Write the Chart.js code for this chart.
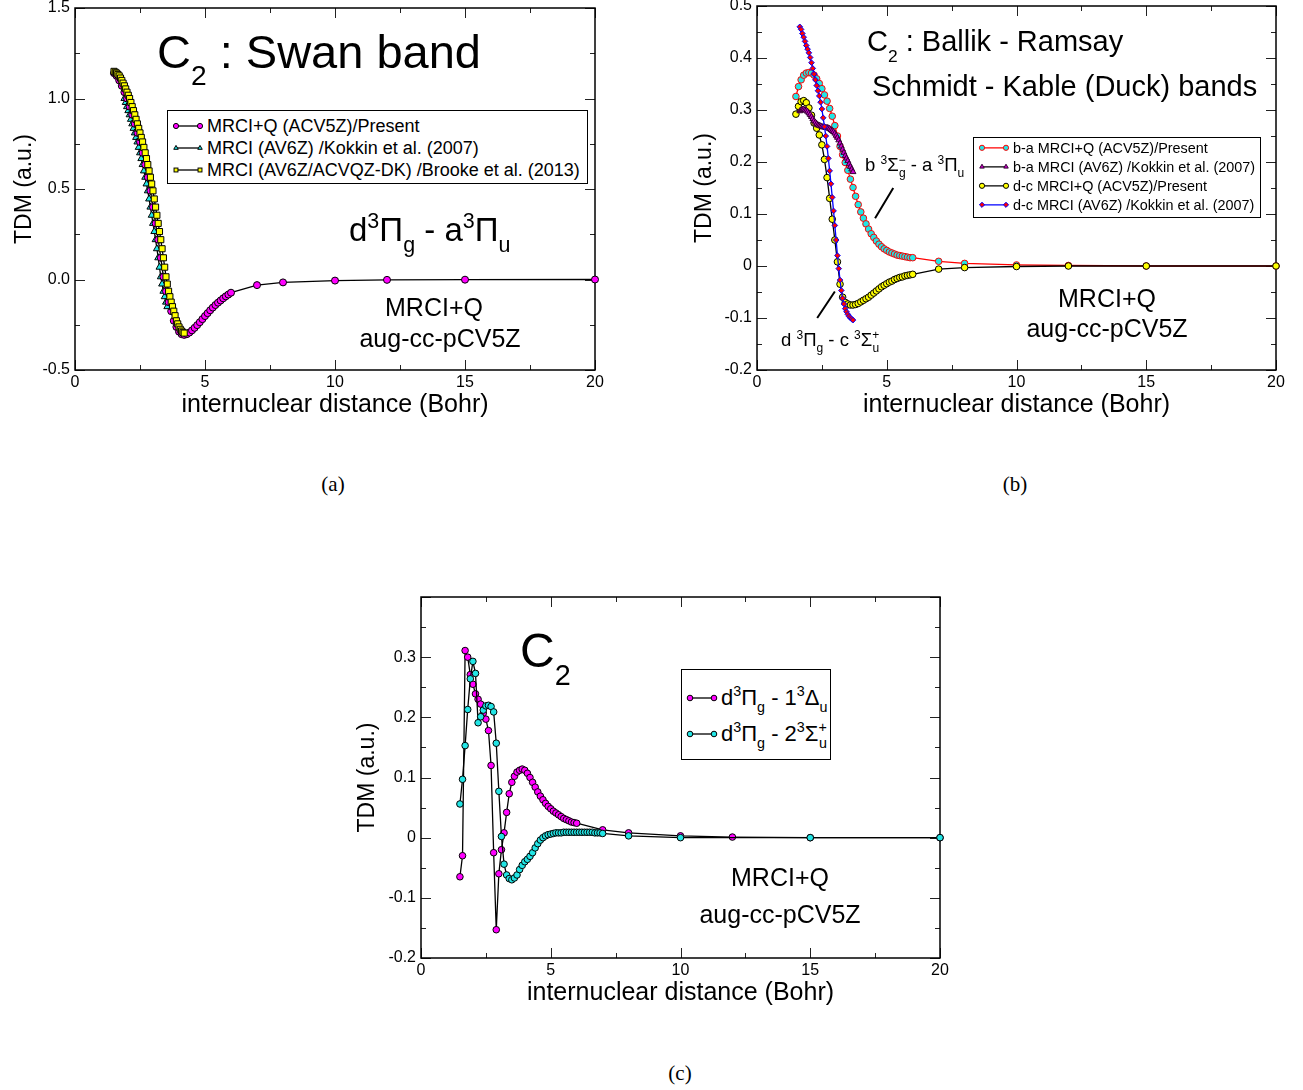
<!DOCTYPE html>
<html>
<head>
<meta charset="utf-8">
<script src="https://cdn.jsdelivr.net/npm/chart.js@4.4.0/dist/chart.umd.min.js"></script>
<style>
  html, body { margin: 0; padding: 0; background: #fff; }
  body { width: 1303px; height: 1090px; position: relative; overflow: hidden;
         font-family: "Liberation Sans", Arial, Helvetica, sans-serif; color: #000; }
  .panel { position: absolute; }
  .txt { position: absolute; white-space: nowrap; line-height: 1; transform: translateY(-50%); }
  .ctr { transform: translate(-50%, -50%); }
  .sp { font-size: .65em; position: relative; top: -.62em; line-height: 1; }
  .sb { font-size: .65em; position: relative; top: .5em; line-height: 1; }
  .bk { margin-left: -.55em; }
  .tsb { font-size: .6em; position: relative; top: .62em; line-height: 1; }
  .legend { position: absolute; border: 1px solid #000; background: #fff; box-sizing: border-box; }
  .row { position: absolute; left: 4px; white-space: nowrap; display: flex; align-items: center;
         transform: translateY(-50%); line-height: 1; }
  .row svg { display: block; margin-right: 3px; }
  .cap { position: absolute; font-family: "Liberation Serif", "DejaVu Serif", serif; font-size: 21px;
         transform: translate(-50%, -50%); }
</style>
</head>
<body>

<div class="panel" style="left:0;top:0;width:622px;height:420px"><canvas id="chartA"></canvas></div>
<div class="panel" style="left:690px;top:0;width:613px;height:420px"><canvas id="chartB"></canvas></div>
<div class="panel" style="left:350px;top:590px;width:617px;height:430px"><canvas id="chartC"></canvas></div>

<!-- panel (a) texts -->
<div class="txt" style="left:157px;top:51px;font-size:47px">C<span class="tsb">2</span> : Swan band</div>
<div class="txt" style="left:349px;top:229px;font-size:33px">d<span class="sp">3</span>&Pi;<span class="sb">g</span> - a<span class="sp">3</span>&Pi;<span class="sb">u</span></div>
<div class="txt ctr" style="left:434px;top:307px;font-size:25px">MRCI+Q</div>
<div class="txt ctr" style="left:440px;top:338px;font-size:25px">aug-cc-pCV5Z</div>
<div class="legend" id="legA" style="left:167px;top:110px;width:421px;height:74px"></div>

<!-- panel (b) texts -->
<div class="txt" style="left:867px;top:41px;font-size:29px">C<span class="tsb">2</span> : Ballik - Ramsay</div>
<div class="txt" style="left:872px;top:86px;font-size:29px">Schmidt - Kable (Duck) bands</div>
<div class="txt" style="left:865px;top:165px;font-size:18.5px">b <span class="sp">3</span>&Sigma;<span class="sp">&minus;</span><span class="sb bk">g</span> - a <span class="sp">3</span>&Pi;<span class="sb">u</span></div>
<div class="txt" style="left:781px;top:340px;font-size:18.5px">d <span class="sp">3</span>&Pi;<span class="sb">g</span> - c <span class="sp">3</span>&Sigma;<span class="sp">+</span><span class="sb bk">u</span></div>
<div class="txt ctr" style="left:1107px;top:298px;font-size:25px">MRCI+Q</div>
<div class="txt ctr" style="left:1107px;top:328px;font-size:25px">aug-cc-pCV5Z</div>
<div class="legend" id="legB" style="left:973px;top:137px;width:288px;height:81px"></div>

<!-- panel (c) texts -->
<div class="txt" style="left:520px;top:651px;font-size:48px">C<span class="tsb">2</span></div>
<div class="txt ctr" style="left:780px;top:877px;font-size:25px">MRCI+Q</div>
<div class="txt ctr" style="left:780px;top:914px;font-size:25px">aug-cc-pCV5Z</div>
<div class="legend" id="legC" style="left:681px;top:669px;width:150px;height:91px"></div>

<div class="cap" style="left:333px;top:484px">(a)</div>
<div class="cap" style="left:1015px;top:484px">(b)</div>
<div class="cap" style="left:680px;top:1073px">(c)</div>

<script>
// ---- data: internuclear distance grids (Bohr) ----
const rMain = [1.5,1.6,1.7,1.8,1.9,2.0,2.1,2.2,2.3,2.4,2.5,2.6,2.7,2.8,2.9,3.0,3.1,3.2,3.3,3.4,
  3.5,3.6,3.7,3.8,3.9,4.0,4.1,4.2,4.3,4.4,4.5,4.6,4.7,4.8,4.9,5.0,5.1,5.2,5.3,5.4,
  5.5,5.6,5.7,5.8,5.9,6.0,7,8,10,12,15,20];
const rKokkinA = [1.90,1.95,2.00,2.05,2.10,2.15,2.20,2.25,2.30,2.35,2.40,2.45,2.50,2.55,2.60,2.65,2.70,
  2.75,2.80,2.85,2.90,2.95,3.00,3.05,3.10,3.15,3.20,3.25,3.30,3.35,3.40,3.45,3.50,3.55];
const rBrooke = [1.50,1.55,1.60,1.65,1.70,1.75,1.80,1.85,1.90,1.95,2.00,2.05,2.10,2.15,2.20,2.25,2.30,2.35,
  2.40,2.45,2.50,2.55,2.60,2.65,2.70,2.75,2.80,2.85,2.90,2.95,3.00,3.05,3.10,3.15,3.20,3.25,3.30,3.35,
  3.40,3.45,3.50,3.55,3.60,3.65,3.70,3.75,3.80,3.85,3.90,3.95,4.00,4.05,4.10,4.15,4.20];
const rKokkinB = [1.65,1.70,1.75,1.80,1.85,1.90,1.95,2.00,2.05,2.10,2.15,2.20,2.25,2.30,2.35,2.40,2.45,
  2.50,2.55,2.60,2.65,2.70,2.75,2.80,2.85,2.90,2.95,3.00,3.05,3.10,3.15,3.20,3.25,3.30,3.35,3.40,3.45,
  3.50,3.55,3.60,3.65,3.70];
const rSigma = [1.5,1.6,1.7,1.8,1.9,2.0,2.1,2.2,2.3,2.4,2.5,2.6,2.7,2.8,2.9,3.0,3.1,3.2,3.3,3.4,
  3.5,3.6,3.7,3.8,3.9,4.0,4.1,4.2,4.3,4.4,4.5,4.6,4.7,4.8,4.9,5.0,5.1,5.2,5.3,5.4,
  5.5,5.6,5.7,5.8,5.9,6.0,6.1,6.2,6.3,6.4,6.5,6.6,6.7,6.8,6.9,7.0,8,10,15,20];

// ---- (a) Swan band d-a TDM ----
const swanPresent = [1.140,1.125,1.100,1.070,1.035,1.000,0.955,0.910,0.860,0.810,
  0.760,0.700,0.635,0.565,0.490,0.400,0.310,0.220,0.120,0.015,
  -0.065,-0.125,-0.175,-0.228,-0.262,-0.288,-0.302,-0.306,-0.302,-0.293,
  -0.281,-0.267,-0.252,-0.236,-0.219,-0.202,-0.186,-0.170,-0.155,-0.141,
  -0.128,-0.116,-0.104,-0.093,-0.083,-0.073,-0.031,-0.016,-0.006,-0.002,-0.001,0.000];
const swanKokkin = [1.000,0.978,0.955,0.933,0.910,0.885,0.860,0.835,0.810,
  0.785,0.760,0.730,0.700,0.668,0.635,0.600,0.565,0.528,0.490,
  0.445,0.400,0.355,0.310,0.265,0.220,0.170,0.120,0.068,0.015,
  -0.025,-0.065,-0.095,-0.125,-0.150];
const swanBrooke = [1.150,1.145,1.140,1.133,1.125,1.113,1.100,1.085,1.070,1.053,
  1.035,1.018,1.000,0.978,0.955,0.933,0.910,0.885,0.860,0.835,
  0.810,0.785,0.760,0.730,0.700,0.668,0.635,0.600,0.565,0.528,
  0.490,0.445,0.400,0.355,0.310,0.265,0.220,0.170,0.120,0.068,
  0.015,-0.025,-0.065,-0.095,-0.125,-0.150,-0.175,-0.200,-0.228,-0.245,
  -0.262,-0.275,-0.285,-0.292,-0.296];

// ---- (b) Ballik-Ramsay (b-a) and Duck (d-c) TDM ----
const baPresent = [0.326,0.345,0.358,0.367,0.371,0.372,0.371,0.367,0.360,0.351,
  0.341,0.329,0.317,0.303,0.288,0.270,0.250,0.230,0.214,0.199,
  0.184,0.167,0.151,0.134,0.118,0.104,0.092,0.081,0.071,0.062,
  0.055,0.048,0.042,0.037,0.033,0.030,0.027,0.025,0.023,0.021,
  0.020,0.019,0.018,0.017,0.016,0.016,0.009,0.005,0.002,0.001,0.000,0.000];
const baKokkin = [0.298,0.300,0.301,0.301,0.300,0.299,0.297,
  0.294,0.291,0.287,0.283,0.279,0.276,0.273,0.271,0.270,0.269,
  0.268,0.267,0.267,0.266,0.266,0.265,0.264,0.262,0.260,0.258,
  0.255,0.251,0.247,0.242,0.236,0.230,0.224,0.218,0.212,0.207,
  0.202,0.196,0.191,0.186,0.181];
const dcPresent = [0.292,0.307,0.316,0.318,0.314,0.304,0.290,0.275,0.265,0.252,
  0.233,0.205,0.170,0.130,0.090,0.050,0.008,-0.035,-0.060,-0.070,
  -0.073,-0.075,-0.075,-0.074,-0.072,-0.069,-0.066,-0.063,-0.060,-0.056,
  -0.052,-0.048,-0.044,-0.040,-0.037,-0.034,-0.031,-0.029,-0.026,-0.024,
  -0.022,-0.021,-0.019,-0.018,-0.017,-0.016,-0.006,-0.003,-0.001,0.000,0.000,0.000];
const dcKokkin = [0.460,0.455,0.447,0.440,0.432,0.424,0.417,
  0.410,0.401,0.391,0.380,0.369,0.358,0.347,0.337,0.327,0.315,
  0.302,0.285,0.268,0.250,0.230,0.207,0.183,0.158,0.132,0.106,
  0.078,0.050,0.020,-0.005,-0.027,-0.047,-0.062,-0.073,-0.082,-0.088,
  -0.093,-0.097,-0.100,-0.102,-0.104];
// label leader lines (data coordinates)
const leaderLines = [[4.55, 0.092, 5.25, 0.150], [2.32, -0.100, 3.00, -0.049]];

// ---- (c) d-1Delta and d-2Sigma TDM ----
const dDelta = [-0.065,-0.030,0.311,0.300,0.271,0.255,0.239,0.230,0.222,0.207,
  0.197,0.178,0.120,-0.025,-0.153,-0.060,-0.020,0.008,0.042,0.073,
  0.092,0.102,0.109,0.112,0.114,0.112,0.107,0.100,0.092,0.084,
  0.076,0.069,0.063,0.057,0.052,0.048,0.044,0.041,0.038,0.035,
  0.032,0.030,0.028,0.026,0.025,0.024,0.013,0.008,0.003,0.001,0.000,0.000];
const dSigma = [0.056,0.097,0.153,0.213,0.264,0.293,0.273,0.191,0.201,0.212,
  0.219,0.220,0.218,0.209,0.157,0.077,0.002,-0.044,-0.062,-0.068,
  -0.070,-0.067,-0.062,-0.053,-0.046,-0.040,-0.036,-0.031,-0.025,-0.017,
  -0.010,-0.004,0.000,0.003,0.005,0.006,0.007,0.008,0.008,0.008,
  0.009,0.009,0.009,0.009,0.009,0.009,0.009,0.009,0.009,0.009,
  0.009,0.009,0.008,0.008,0.008,0.007,0.003,0.000,0.000,0.000];

const MAGENTA = '#ff00ff', CYAN = '#22e5e5', YELLOW = '#ffff00';
const fontFam = '"Liberation Sans", Arial, Helvetica, sans-serif';

// inward ticks on all four sides + frame, xmgrace style
const frameTicks = {
    id: 'frameTicks',
    beforeDatasetsDraw(chart) {
        const { ctx, chartArea: a, scales: { x, y } } = chart;
        const xv = x.ticks.map(t => t.value);
        const yv = y.ticks.map(t => t.value);
        const mid = v => v.slice(1).map((t, i) => (t + v[i]) / 2);
        ctx.save();
        ctx.strokeStyle = '#222';
        ctx.lineWidth = 1;
        ctx.beginPath();
        const xt = (v, len) => {
            const p = Math.round(x.getPixelForValue(v)) + 0.5;
            ctx.moveTo(p, a.bottom); ctx.lineTo(p, a.bottom - len);
            ctx.moveTo(p, a.top); ctx.lineTo(p, a.top + len);
        };
        const yt = (v, len) => {
            const p = Math.round(y.getPixelForValue(v)) + 0.5;
            ctx.moveTo(a.left, p); ctx.lineTo(a.left + len, p);
            ctx.moveTo(a.right, p); ctx.lineTo(a.right - len, p);
        };
        xv.forEach(v => xt(v, 10));
        mid(xv).forEach(v => xt(v, 5));
        yv.forEach(v => yt(v, 10));
        mid(yv).forEach(v => yt(v, 5));
        ctx.stroke();
        ctx.strokeStyle = '#000';
        ctx.lineWidth = 1.5;
        ctx.strokeRect(a.left, a.top, a.right - a.left, a.bottom - a.top);
        ctx.restore();
    }
};

const leaders = {
    id: 'leaders',
    afterDatasetsDraw(chart, args, opts) {
        if (!opts.lines) return;
        const { ctx, scales: { x, y } } = chart;
        ctx.save();
        ctx.strokeStyle = '#000';
        ctx.lineWidth = 2;
        ctx.beginPath();
        opts.lines.forEach(l => {
            ctx.moveTo(x.getPixelForValue(l[0]), y.getPixelForValue(l[1]));
            ctx.lineTo(x.getPixelForValue(l[2]), y.getPixelForValue(l[3]));
        });
        ctx.stroke();
        ctx.restore();
    }
};

function series(label, xs, ys, opt) {
    return Object.assign({
        label: label,
        data: xs.map((x, i) => ({ x: x, y: ys[i] })),
        showLine: true,
        borderColor: '#000',
        borderWidth: 1.3,
        pointBorderColor: '#000',
        pointBorderWidth: 1,
        pointRadius: 3.3,
        pointHoverRadius: 3.3,
        pointStyle: 'circle',
        tension: 0,
        clip: false
    }, opt);
}

function scales(c) {
    return {
        x: {
            type: 'linear', min: 0, max: 20,
            ticks: { stepSize: 5, color: '#000', font: { family: fontFam, size: 16 }, padding: 3, maxRotation: 0, autoSkip: false },
            grid: { display: false, drawTicks: false },
            border: { display: false },
            title: { display: true, text: 'internuclear distance (Bohr)', color: '#000',
                     font: { family: fontFam, size: 25 }, padding: { top: 0, bottom: c.xTitlePad } },
            afterFit(s) { s.height = c.xH; s.paddingLeft = 0; s.paddingRight = 0; }
        },
        y: {
            type: 'linear', min: c.yMin, max: c.yMax,
            ticks: { stepSize: c.yStep, color: '#000', font: { family: fontFam, size: 16 }, padding: 5,
                     autoSkip: false, callback: c.yFmt },
            grid: { display: false, drawTicks: false },
            border: { display: false },
            title: { display: true, text: 'TDM (a.u.)', color: '#000',
                     font: { family: fontFam, size: 23 }, padding: { top: c.yTitlePad, bottom: 0 } },
            afterFit(s) { s.width = c.yW; s.paddingTop = 0; s.paddingBottom = 0; }
        }
    };
}

function makeChart(id, datasets, sc, pad, extra) {
    return new Chart(document.getElementById(id), {
        type: 'scatter',
        data: { datasets: datasets },
        options: {
            responsive: true,
            maintainAspectRatio: false,
            animation: false,
            events: [],
            layout: { padding: pad },
            scales: sc,
            plugins: Object.assign({ legend: { display: false }, tooltip: { enabled: false } }, extra || {})
        },
        plugins: [frameTicks, leaders]
    });
}

// legend samples drawn as small svg, built from the dataset styles
function markerSvg(st, cx, cy, r, fill, stroke) {
    const s = `fill="${fill}" stroke="${stroke}" stroke-width="1"`;
    if (st === 'triangle') return `<polygon points="${cx},${cy - r} ${cx + r * 0.87},${cy + r * 0.5} ${cx - r * 0.87},${cy + r * 0.5}" ${s}/>`;
    if (st === 'rect') return `<rect x="${cx - r * 0.75}" y="${cy - r * 0.75}" width="${r * 1.5}" height="${r * 1.5}" ${s}/>`;
    if (st === 'rectRot') return `<polygon points="${cx},${cy - r} ${cx + r},${cy} ${cx},${cy + r} ${cx - r},${cy}" ${s}/>`;
    return `<circle cx="${cx}" cy="${cy}" r="${r}" ${s}/>`;
}
function buildLegend(elId, datasets, fontSize, rows, r) {
    const el = document.getElementById(elId);
    datasets.forEach((d, i) => {
        const row = document.createElement('div');
        row.className = 'row';
        row.style.top = rows[i] + 'px';
        row.style.fontSize = fontSize + 'px';
        const svg = `<svg width="32" height="12" viewBox="0 0 32 12">` +
            `<line x1="4" y1="6" x2="28" y2="6" stroke="${d.borderColor}" stroke-width="1.3"/>` +
            markerSvg(d.pointStyle, 4, 6, r, d.pointBackgroundColor, d.pointBorderColor) +
            markerSvg(d.pointStyle, 28, 6, r, d.pointBackgroundColor, d.pointBorderColor) + `</svg>`;
        row.innerHTML = svg + '<span>' + (d.legendHtml || d.label) + '</span>';
        el.appendChild(row);
    });
}

// ---- (a) ----
const dsA = [
    series('MRCI+Q (ACV5Z)/Present', rMain, swanPresent, { pointBackgroundColor: MAGENTA, pointRadius: 3.5, order: 1 }),
    series('MRCI (AV6Z) /Kokkin et al. (2007)', rKokkinA, swanKokkin, { pointBackgroundColor: CYAN, pointStyle: 'triangle', pointRadius: 4, order: 2 }),
    series('MRCI (AV6Z/ACVQZ-DK) /Brooke et al. (2013)', rBrooke, swanBrooke, { pointBackgroundColor: YELLOW, pointStyle: 'rect', pointRadius: 4.3, order: 0 })
];
makeChart('chartA', dsA, scales({
    yMin: -0.5, yMax: 1.5, yStep: 0.5, yFmt: v => v.toFixed(1),
    yW: 75, xH: 50, yTitlePad: 11, xTitlePad: 0
}), { top: 8, right: 27, left: 0, bottom: 0 });
buildLegend('legA', dsA, 18, [15, 37, 59], 2.6);

// ---- (b) ----
const dsB = [
    series('b-a MRCI+Q (ACV5Z)/Present', rMain, baPresent, { borderColor: '#ff0000', pointBorderColor: '#ff0000', pointBackgroundColor: CYAN, order: 3 }),
    series('b-a MRCI (AV6Z) /Kokkin et al. (2007)', rKokkinB, baKokkin, { pointBackgroundColor: '#cc00cc', pointBorderColor: '#330033', pointStyle: 'triangle', pointRadius: 3.4, order: 1 }),
    series('d-c MRCI+Q (ACV5Z)/Present', rMain, dcPresent, { pointBackgroundColor: YELLOW, order: 2 }),
    series('d-c MRCI (AV6Z) /Kokkin et al. (2007)', rKokkinB, dcKokkin, { borderColor: '#0000ff', pointBorderColor: '#0000ff', pointBackgroundColor: '#ff0000', pointStyle: 'rectRot', pointRadius: 2.8, order: 0 })
];
makeChart('chartB', dsB, scales({
    yMin: -0.2, yMax: 0.5, yStep: 0.1, yFmt: v => Math.abs(v) < 1e-9 ? '0' : v.toFixed(1),
    yW: 67, xH: 50, yTitlePad: 1, xTitlePad: 0
}), { top: 6, right: 27, left: 0, bottom: 0 }, { leaders: { lines: leaderLines } });
buildLegend('legB', dsB, 14.4, [10, 29, 48, 67], 2.6);

// ---- (c) ----
const dsC = [
    series('d3Πg - 13Δu', rMain, dDelta, { pointBackgroundColor: MAGENTA, order: 1,
        legendHtml: 'd<span class="sp">3</span>&Pi;<span class="sb">g</span> - 1<span class="sp">3</span>&Delta;<span class="sb">u</span>' }),
    series('d3Πg - 23Σ+u', rSigma, dSigma, { pointBackgroundColor: CYAN, order: 0,
        legendHtml: 'd<span class="sp">3</span>&Pi;<span class="sb">g</span> - 2<span class="sp">3</span>&Sigma;<span class="sp">+</span><span class="sb bk">u</span>' })
];
makeChart('chartC', dsC, scales({
    yMin: -0.2, yMax: 0.4, yStep: 0.1,
    yFmt: v => v > 0.35 ? '' : (Math.abs(v) < 1e-9 ? '0' : v.toFixed(1)),
    yW: 71, xH: 62, yTitlePad: 4, xTitlePad: 12
}), { top: 7, right: 27, left: 0, bottom: 0 });
buildLegend('legC', dsC, 22, [28, 64], 2.8);
</script>
</body>
</html>
